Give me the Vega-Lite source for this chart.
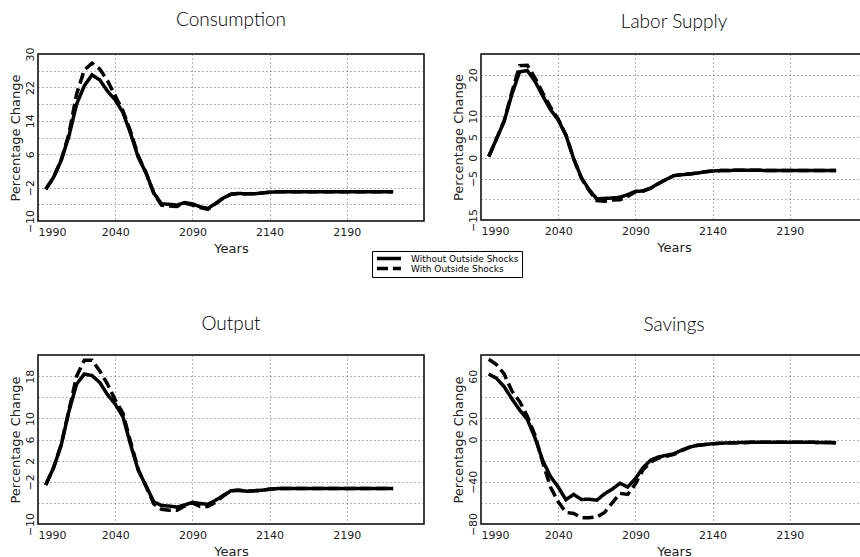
{
  "$schema": "https://vega.github.io/schema/vega-lite/v6.json",
  "padding": {"left": 8, "top": 10, "right": 0, "bottom": 0},
  "background": "white",
  "columns": 2,
  "bounds": "flush",
  "spacing": {"row": 134, "column": 57},
  "datasets": {
    "consumption": [
      {"year":1995,"series":"Without Outside Shocks","value":-2.4},{"year":2000,"series":"Without Outside Shocks","value":0.4},{"year":2005,"series":"Without Outside Shocks","value":4.5},{"year":2010,"series":"Without Outside Shocks","value":10.3},{"year":2015,"series":"Without Outside Shocks","value":18.0},{"year":2020,"series":"Without Outside Shocks","value":22.4},{"year":2025,"series":"Without Outside Shocks","value":25.0},{"year":2030,"series":"Without Outside Shocks","value":23.8},{"year":2035,"series":"Without Outside Shocks","value":21.1},{"year":2040,"series":"Without Outside Shocks","value":19.0},{"year":2045,"series":"Without Outside Shocks","value":16.0},{"year":2050,"series":"Without Outside Shocks","value":10.9},{"year":2055,"series":"Without Outside Shocks","value":5.2},{"year":2060,"series":"Without Outside Shocks","value":1.5},{"year":2065,"series":"Without Outside Shocks","value":-3.3},{"year":2070,"series":"Without Outside Shocks","value":-5.9},{"year":2075,"series":"Without Outside Shocks","value":-6.0},{"year":2080,"series":"Without Outside Shocks","value":-6.2},{"year":2085,"series":"Without Outside Shocks","value":-5.6},{"year":2090,"series":"Without Outside Shocks","value":-5.9},{"year":2095,"series":"Without Outside Shocks","value":-6.6},{"year":2100,"series":"Without Outside Shocks","value":-7.0},{"year":2105,"series":"Without Outside Shocks","value":-5.8},{"year":2110,"series":"Without Outside Shocks","value":-4.5},{"year":2115,"series":"Without Outside Shocks","value":-3.6},{"year":2120,"series":"Without Outside Shocks","value":-3.4},{"year":2125,"series":"Without Outside Shocks","value":-3.5},{"year":2130,"series":"Without Outside Shocks","value":-3.5},{"year":2135,"series":"Without Outside Shocks","value":-3.3},{"year":2140,"series":"Without Outside Shocks","value":-3.1},{"year":2145,"series":"Without Outside Shocks","value":-3.0},{"year":2150,"series":"Without Outside Shocks","value":-3.0},{"year":2155,"series":"Without Outside Shocks","value":-3.0},{"year":2160,"series":"Without Outside Shocks","value":-3.0},{"year":2165,"series":"Without Outside Shocks","value":-3.0},{"year":2170,"series":"Without Outside Shocks","value":-3.0},{"year":2175,"series":"Without Outside Shocks","value":-3.0},{"year":2180,"series":"Without Outside Shocks","value":-3.0},{"year":2185,"series":"Without Outside Shocks","value":-3.0},{"year":2190,"series":"Without Outside Shocks","value":-3.0},{"year":2195,"series":"Without Outside Shocks","value":-3.0},{"year":2200,"series":"Without Outside Shocks","value":-3.0},{"year":2205,"series":"Without Outside Shocks","value":-3.0},{"year":2210,"series":"Without Outside Shocks","value":-3.0},{"year":2215,"series":"Without Outside Shocks","value":-3.0},{"year":2220,"series":"Without Outside Shocks","value":-3.0},
      {"year":1995,"series":"With Outside Shocks","value":-2.4},{"year":2000,"series":"With Outside Shocks","value":0.4},{"year":2005,"series":"With Outside Shocks","value":4.6},{"year":2010,"series":"With Outside Shocks","value":10.8},{"year":2015,"series":"With Outside Shocks","value":20.4},{"year":2020,"series":"With Outside Shocks","value":26.2},{"year":2025,"series":"With Outside Shocks","value":27.8},{"year":2030,"series":"With Outside Shocks","value":26.4},{"year":2035,"series":"With Outside Shocks","value":23.6},{"year":2040,"series":"With Outside Shocks","value":20.0},{"year":2045,"series":"With Outside Shocks","value":16.4},{"year":2050,"series":"With Outside Shocks","value":11.4},{"year":2055,"series":"With Outside Shocks","value":5.6},{"year":2060,"series":"With Outside Shocks","value":1.5},{"year":2065,"series":"With Outside Shocks","value":-3.4},{"year":2070,"series":"With Outside Shocks","value":-6.2},{"year":2075,"series":"With Outside Shocks","value":-6.4},{"year":2080,"series":"With Outside Shocks","value":-6.5},{"year":2085,"series":"With Outside Shocks","value":-5.7},{"year":2090,"series":"With Outside Shocks","value":-6.2},{"year":2095,"series":"With Outside Shocks","value":-6.8},{"year":2100,"series":"With Outside Shocks","value":-7.2},{"year":2105,"series":"With Outside Shocks","value":-5.9},{"year":2110,"series":"With Outside Shocks","value":-4.5},{"year":2115,"series":"With Outside Shocks","value":-3.6},{"year":2120,"series":"With Outside Shocks","value":-3.4},{"year":2125,"series":"With Outside Shocks","value":-3.5},{"year":2130,"series":"With Outside Shocks","value":-3.5},{"year":2135,"series":"With Outside Shocks","value":-3.3},{"year":2140,"series":"With Outside Shocks","value":-3.1},{"year":2145,"series":"With Outside Shocks","value":-3.0},{"year":2150,"series":"With Outside Shocks","value":-3.0},{"year":2155,"series":"With Outside Shocks","value":-3.0},{"year":2160,"series":"With Outside Shocks","value":-3.0},{"year":2165,"series":"With Outside Shocks","value":-3.0},{"year":2170,"series":"With Outside Shocks","value":-3.0},{"year":2175,"series":"With Outside Shocks","value":-3.0},{"year":2180,"series":"With Outside Shocks","value":-3.0},{"year":2185,"series":"With Outside Shocks","value":-3.0},{"year":2190,"series":"With Outside Shocks","value":-3.0},{"year":2195,"series":"With Outside Shocks","value":-3.0},{"year":2200,"series":"With Outside Shocks","value":-3.0},{"year":2205,"series":"With Outside Shocks","value":-3.0},{"year":2210,"series":"With Outside Shocks","value":-3.0},{"year":2215,"series":"With Outside Shocks","value":-3.0},{"year":2220,"series":"With Outside Shocks","value":-3.0}
    ],
    "labor": [
      {"year":1995,"series":"Without Outside Shocks","value":0.3},{"year":2000,"series":"Without Outside Shocks","value":4.5},{"year":2005,"series":"Without Outside Shocks","value":8.8},{"year":2010,"series":"Without Outside Shocks","value":15.3},{"year":2015,"series":"Without Outside Shocks","value":20.7},{"year":2020,"series":"Without Outside Shocks","value":21.0},{"year":2025,"series":"Without Outside Shocks","value":18.4},{"year":2030,"series":"Without Outside Shocks","value":14.9},{"year":2035,"series":"Without Outside Shocks","value":11.6},{"year":2040,"series":"Without Outside Shocks","value":9.1},{"year":2045,"series":"Without Outside Shocks","value":5.4},{"year":2050,"series":"Without Outside Shocks","value":-0.2},{"year":2055,"series":"Without Outside Shocks","value":-4.8},{"year":2060,"series":"Without Outside Shocks","value":-7.7},{"year":2065,"series":"Without Outside Shocks","value":-9.9},{"year":2070,"series":"Without Outside Shocks","value":-9.8},{"year":2075,"series":"Without Outside Shocks","value":-9.7},{"year":2080,"series":"Without Outside Shocks","value":-9.5},{"year":2085,"series":"Without Outside Shocks","value":-8.9},{"year":2090,"series":"Without Outside Shocks","value":-8.1},{"year":2095,"series":"Without Outside Shocks","value":-8.0},{"year":2100,"series":"Without Outside Shocks","value":-7.3},{"year":2105,"series":"Without Outside Shocks","value":-6.2},{"year":2110,"series":"Without Outside Shocks","value":-5.2},{"year":2115,"series":"Without Outside Shocks","value":-4.3},{"year":2120,"series":"Without Outside Shocks","value":-4.1},{"year":2125,"series":"Without Outside Shocks","value":-3.9},{"year":2130,"series":"Without Outside Shocks","value":-3.7},{"year":2135,"series":"Without Outside Shocks","value":-3.4},{"year":2140,"series":"Without Outside Shocks","value":-3.2},{"year":2145,"series":"Without Outside Shocks","value":-3.1},{"year":2150,"series":"Without Outside Shocks","value":-3.1},{"year":2155,"series":"Without Outside Shocks","value":-3.0},{"year":2160,"series":"Without Outside Shocks","value":-3.0},{"year":2165,"series":"Without Outside Shocks","value":-3.0},{"year":2170,"series":"Without Outside Shocks","value":-3.0},{"year":2175,"series":"Without Outside Shocks","value":-3.1},{"year":2180,"series":"Without Outside Shocks","value":-3.1},{"year":2185,"series":"Without Outside Shocks","value":-3.1},{"year":2190,"series":"Without Outside Shocks","value":-3.1},{"year":2195,"series":"Without Outside Shocks","value":-3.1},{"year":2200,"series":"Without Outside Shocks","value":-3.1},{"year":2205,"series":"Without Outside Shocks","value":-3.1},{"year":2210,"series":"Without Outside Shocks","value":-3.1},{"year":2215,"series":"Without Outside Shocks","value":-3.1},{"year":2220,"series":"Without Outside Shocks","value":-3.1},
      {"year":1995,"series":"With Outside Shocks","value":0.3},{"year":2000,"series":"With Outside Shocks","value":4.5},{"year":2005,"series":"With Outside Shocks","value":8.9},{"year":2010,"series":"With Outside Shocks","value":15.8},{"year":2015,"series":"With Outside Shocks","value":22.2},{"year":2020,"series":"With Outside Shocks","value":22.3},{"year":2025,"series":"With Outside Shocks","value":19.2},{"year":2030,"series":"With Outside Shocks","value":15.6},{"year":2035,"series":"With Outside Shocks","value":12.2},{"year":2040,"series":"With Outside Shocks","value":9.3},{"year":2045,"series":"With Outside Shocks","value":5.5},{"year":2050,"series":"With Outside Shocks","value":-0.2},{"year":2055,"series":"With Outside Shocks","value":-4.9},{"year":2060,"series":"With Outside Shocks","value":-7.9},{"year":2065,"series":"With Outside Shocks","value":-10.3},{"year":2070,"series":"With Outside Shocks","value":-10.5},{"year":2075,"series":"With Outside Shocks","value":-10.2},{"year":2080,"series":"With Outside Shocks","value":-10.1},{"year":2085,"series":"With Outside Shocks","value":-9.3},{"year":2090,"series":"With Outside Shocks","value":-8.2},{"year":2095,"series":"With Outside Shocks","value":-8.0},{"year":2100,"series":"With Outside Shocks","value":-7.3},{"year":2105,"series":"With Outside Shocks","value":-6.2},{"year":2110,"series":"With Outside Shocks","value":-5.2},{"year":2115,"series":"With Outside Shocks","value":-4.3},{"year":2120,"series":"With Outside Shocks","value":-4.1},{"year":2125,"series":"With Outside Shocks","value":-3.9},{"year":2130,"series":"With Outside Shocks","value":-3.7},{"year":2135,"series":"With Outside Shocks","value":-3.4},{"year":2140,"series":"With Outside Shocks","value":-3.2},{"year":2145,"series":"With Outside Shocks","value":-3.1},{"year":2150,"series":"With Outside Shocks","value":-3.1},{"year":2155,"series":"With Outside Shocks","value":-3.0},{"year":2160,"series":"With Outside Shocks","value":-3.0},{"year":2165,"series":"With Outside Shocks","value":-3.0},{"year":2170,"series":"With Outside Shocks","value":-3.0},{"year":2175,"series":"With Outside Shocks","value":-3.1},{"year":2180,"series":"With Outside Shocks","value":-3.1},{"year":2185,"series":"With Outside Shocks","value":-3.1},{"year":2190,"series":"With Outside Shocks","value":-3.1},{"year":2195,"series":"With Outside Shocks","value":-3.1},{"year":2200,"series":"With Outside Shocks","value":-3.1},{"year":2205,"series":"With Outside Shocks","value":-3.1},{"year":2210,"series":"With Outside Shocks","value":-3.1},{"year":2215,"series":"With Outside Shocks","value":-3.1},{"year":2220,"series":"With Outside Shocks","value":-3.1}
    ],
    "output": [
      {"year":1995,"series":"Without Outside Shocks","value":-2.6},{"year":2000,"series":"Without Outside Shocks","value":0.6},{"year":2005,"series":"Without Outside Shocks","value":4.9},{"year":2010,"series":"Without Outside Shocks","value":11.3},{"year":2015,"series":"Without Outside Shocks","value":16.5},{"year":2020,"series":"Without Outside Shocks","value":18.4},{"year":2025,"series":"Without Outside Shocks","value":18.1},{"year":2030,"series":"Without Outside Shocks","value":16.8},{"year":2035,"series":"Without Outside Shocks","value":14.5},{"year":2040,"series":"Without Outside Shocks","value":12.7},{"year":2045,"series":"Without Outside Shocks","value":10.3},{"year":2050,"series":"Without Outside Shocks","value":5.0},{"year":2055,"series":"Without Outside Shocks","value":0.1},{"year":2060,"series":"Without Outside Shocks","value":-2.8},{"year":2065,"series":"Without Outside Shocks","value":-5.8},{"year":2070,"series":"Without Outside Shocks","value":-6.5},{"year":2075,"series":"Without Outside Shocks","value":-6.6},{"year":2080,"series":"Without Outside Shocks","value":-6.8},{"year":2085,"series":"Without Outside Shocks","value":-6.4},{"year":2090,"series":"Without Outside Shocks","value":-5.9},{"year":2095,"series":"Without Outside Shocks","value":-6.1},{"year":2100,"series":"Without Outside Shocks","value":-6.3},{"year":2105,"series":"Without Outside Shocks","value":-5.5},{"year":2110,"series":"Without Outside Shocks","value":-4.6},{"year":2115,"series":"Without Outside Shocks","value":-3.7},{"year":2120,"series":"Without Outside Shocks","value":-3.6},{"year":2125,"series":"Without Outside Shocks","value":-3.8},{"year":2130,"series":"Without Outside Shocks","value":-3.7},{"year":2135,"series":"Without Outside Shocks","value":-3.6},{"year":2140,"series":"Without Outside Shocks","value":-3.4},{"year":2145,"series":"Without Outside Shocks","value":-3.3},{"year":2150,"series":"Without Outside Shocks","value":-3.3},{"year":2155,"series":"Without Outside Shocks","value":-3.3},{"year":2160,"series":"Without Outside Shocks","value":-3.3},{"year":2165,"series":"Without Outside Shocks","value":-3.3},{"year":2170,"series":"Without Outside Shocks","value":-3.3},{"year":2175,"series":"Without Outside Shocks","value":-3.3},{"year":2180,"series":"Without Outside Shocks","value":-3.3},{"year":2185,"series":"Without Outside Shocks","value":-3.3},{"year":2190,"series":"Without Outside Shocks","value":-3.3},{"year":2195,"series":"Without Outside Shocks","value":-3.3},{"year":2200,"series":"Without Outside Shocks","value":-3.3},{"year":2205,"series":"Without Outside Shocks","value":-3.3},{"year":2210,"series":"Without Outside Shocks","value":-3.3},{"year":2215,"series":"Without Outside Shocks","value":-3.3},{"year":2220,"series":"Without Outside Shocks","value":-3.3},
      {"year":1995,"series":"With Outside Shocks","value":-2.6},{"year":2000,"series":"With Outside Shocks","value":0.6},{"year":2005,"series":"With Outside Shocks","value":5.0},{"year":2010,"series":"With Outside Shocks","value":11.5},{"year":2015,"series":"With Outside Shocks","value":18.0},{"year":2020,"series":"With Outside Shocks","value":21.0},{"year":2025,"series":"With Outside Shocks","value":21.0},{"year":2030,"series":"With Outside Shocks","value":19.0},{"year":2035,"series":"With Outside Shocks","value":16.5},{"year":2040,"series":"With Outside Shocks","value":13.5},{"year":2045,"series":"With Outside Shocks","value":11.0},{"year":2050,"series":"With Outside Shocks","value":5.5},{"year":2055,"series":"With Outside Shocks","value":0.3},{"year":2060,"series":"With Outside Shocks","value":-2.9},{"year":2065,"series":"With Outside Shocks","value":-6.2},{"year":2070,"series":"With Outside Shocks","value":-7.2},{"year":2075,"series":"With Outside Shocks","value":-7.4},{"year":2080,"series":"With Outside Shocks","value":-7.4},{"year":2085,"series":"With Outside Shocks","value":-6.6},{"year":2090,"series":"With Outside Shocks","value":-6.0},{"year":2095,"series":"With Outside Shocks","value":-6.7},{"year":2100,"series":"With Outside Shocks","value":-6.7},{"year":2105,"series":"With Outside Shocks","value":-5.9},{"year":2110,"series":"With Outside Shocks","value":-4.7},{"year":2115,"series":"With Outside Shocks","value":-3.7},{"year":2120,"series":"With Outside Shocks","value":-3.6},{"year":2125,"series":"With Outside Shocks","value":-3.8},{"year":2130,"series":"With Outside Shocks","value":-3.7},{"year":2135,"series":"With Outside Shocks","value":-3.6},{"year":2140,"series":"With Outside Shocks","value":-3.4},{"year":2145,"series":"With Outside Shocks","value":-3.3},{"year":2150,"series":"With Outside Shocks","value":-3.3},{"year":2155,"series":"With Outside Shocks","value":-3.3},{"year":2160,"series":"With Outside Shocks","value":-3.3},{"year":2165,"series":"With Outside Shocks","value":-3.3},{"year":2170,"series":"With Outside Shocks","value":-3.3},{"year":2175,"series":"With Outside Shocks","value":-3.3},{"year":2180,"series":"With Outside Shocks","value":-3.3},{"year":2185,"series":"With Outside Shocks","value":-3.3},{"year":2190,"series":"With Outside Shocks","value":-3.3},{"year":2195,"series":"With Outside Shocks","value":-3.3},{"year":2200,"series":"With Outside Shocks","value":-3.3},{"year":2205,"series":"With Outside Shocks","value":-3.3},{"year":2210,"series":"With Outside Shocks","value":-3.3},{"year":2215,"series":"With Outside Shocks","value":-3.3},{"year":2220,"series":"With Outside Shocks","value":-3.3}
    ],
    "savings": [
      {"year":1995,"series":"Without Outside Shocks","value":62.0},{"year":2000,"series":"Without Outside Shocks","value":58.0},{"year":2005,"series":"Without Outside Shocks","value":50.0},{"year":2010,"series":"Without Outside Shocks","value":38.5},{"year":2015,"series":"Without Outside Shocks","value":28.0},{"year":2020,"series":"Without Outside Shocks","value":19.0},{"year":2025,"series":"Without Outside Shocks","value":1.5},{"year":2030,"series":"Without Outside Shocks","value":-20.0},{"year":2035,"series":"Without Outside Shocks","value":-35.0},{"year":2040,"series":"Without Outside Shocks","value":-45.0},{"year":2045,"series":"Without Outside Shocks","value":-57.0},{"year":2050,"series":"Without Outside Shocks","value":-52.0},{"year":2055,"series":"Without Outside Shocks","value":-56.8},{"year":2060,"series":"Without Outside Shocks","value":-56.5},{"year":2065,"series":"Without Outside Shocks","value":-57.5},{"year":2070,"series":"Without Outside Shocks","value":-51.5},{"year":2075,"series":"Without Outside Shocks","value":-47.0},{"year":2080,"series":"Without Outside Shocks","value":-41.5},{"year":2085,"series":"Without Outside Shocks","value":-45.0},{"year":2090,"series":"Without Outside Shocks","value":-37.0},{"year":2095,"series":"Without Outside Shocks","value":-26.5},{"year":2100,"series":"Without Outside Shocks","value":-19.5},{"year":2105,"series":"Without Outside Shocks","value":-16.5},{"year":2110,"series":"Without Outside Shocks","value":-15.0},{"year":2115,"series":"Without Outside Shocks","value":-13.5},{"year":2120,"series":"Without Outside Shocks","value":-10.0},{"year":2125,"series":"Without Outside Shocks","value":-7.2},{"year":2130,"series":"Without Outside Shocks","value":-5.5},{"year":2135,"series":"Without Outside Shocks","value":-4.8},{"year":2140,"series":"Without Outside Shocks","value":-4.0},{"year":2145,"series":"Without Outside Shocks","value":-3.6},{"year":2150,"series":"Without Outside Shocks","value":-3.2},{"year":2155,"series":"Without Outside Shocks","value":-3.0},{"year":2160,"series":"Without Outside Shocks","value":-2.8},{"year":2165,"series":"Without Outside Shocks","value":-2.7},{"year":2170,"series":"Without Outside Shocks","value":-2.6},{"year":2175,"series":"Without Outside Shocks","value":-2.5},{"year":2180,"series":"Without Outside Shocks","value":-2.5},{"year":2185,"series":"Without Outside Shocks","value":-2.5},{"year":2190,"series":"Without Outside Shocks","value":-2.5},{"year":2195,"series":"Without Outside Shocks","value":-2.5},{"year":2200,"series":"Without Outside Shocks","value":-2.6},{"year":2205,"series":"Without Outside Shocks","value":-2.7},{"year":2210,"series":"Without Outside Shocks","value":-2.8},{"year":2215,"series":"Without Outside Shocks","value":-2.9},{"year":2220,"series":"Without Outside Shocks","value":-3.0},
      {"year":1995,"series":"With Outside Shocks","value":76.0},{"year":2000,"series":"With Outside Shocks","value":71.0},{"year":2005,"series":"With Outside Shocks","value":62.0},{"year":2010,"series":"With Outside Shocks","value":46.0},{"year":2015,"series":"With Outside Shocks","value":36.0},{"year":2020,"series":"With Outside Shocks","value":22.0},{"year":2025,"series":"With Outside Shocks","value":4.0},{"year":2030,"series":"With Outside Shocks","value":-22.0},{"year":2035,"series":"With Outside Shocks","value":-45.0},{"year":2040,"series":"With Outside Shocks","value":-59.0},{"year":2045,"series":"With Outside Shocks","value":-69.0},{"year":2050,"series":"With Outside Shocks","value":-70.0},{"year":2055,"series":"With Outside Shocks","value":-74.0},{"year":2060,"series":"With Outside Shocks","value":-74.0},{"year":2065,"series":"With Outside Shocks","value":-73.5},{"year":2070,"series":"With Outside Shocks","value":-69.0},{"year":2075,"series":"With Outside Shocks","value":-60.0},{"year":2080,"series":"With Outside Shocks","value":-51.0},{"year":2085,"series":"With Outside Shocks","value":-52.0},{"year":2090,"series":"With Outside Shocks","value":-42.0},{"year":2095,"series":"With Outside Shocks","value":-28.5},{"year":2100,"series":"With Outside Shocks","value":-21.5},{"year":2105,"series":"With Outside Shocks","value":-17.5},{"year":2110,"series":"With Outside Shocks","value":-16.0},{"year":2115,"series":"With Outside Shocks","value":-14.0},{"year":2120,"series":"With Outside Shocks","value":-10.5},{"year":2125,"series":"With Outside Shocks","value":-7.4},{"year":2130,"series":"With Outside Shocks","value":-5.6},{"year":2135,"series":"With Outside Shocks","value":-4.8},{"year":2140,"series":"With Outside Shocks","value":-4.0},{"year":2145,"series":"With Outside Shocks","value":-3.6},{"year":2150,"series":"With Outside Shocks","value":-3.2},{"year":2155,"series":"With Outside Shocks","value":-3.0},{"year":2160,"series":"With Outside Shocks","value":-2.8},{"year":2165,"series":"With Outside Shocks","value":-2.7},{"year":2170,"series":"With Outside Shocks","value":-2.6},{"year":2175,"series":"With Outside Shocks","value":-2.5},{"year":2180,"series":"With Outside Shocks","value":-2.5},{"year":2185,"series":"With Outside Shocks","value":-2.5},{"year":2190,"series":"With Outside Shocks","value":-2.5},{"year":2195,"series":"With Outside Shocks","value":-2.5},{"year":2200,"series":"With Outside Shocks","value":-2.6},{"year":2205,"series":"With Outside Shocks","value":-2.7},{"year":2210,"series":"With Outside Shocks","value":-2.8},{"year":2215,"series":"With Outside Shocks","value":-2.9},{"year":2220,"series":"With Outside Shocks","value":-3.0}
    ]
  },
  "concat": [
    {
      "title": {"text": "Consumption", "offset": 17},
      "width": 386, "height": 167,
      "data": {"name": "consumption"},
      "mark": {"type": "line", "strokeWidth": 3.5, "color": "black", "strokeCap": "butt"},
      "encoding": {
        "x": {"field": "year", "type": "quantitative", "scale": {"domain": [1990, 2240], "nice": false, "zero": false}, "axis": {"values": [1990, 2040, 2090, 2140, 2190], "format": "d", "title": "Years", "labelFlush": true}},
        "y": {"field": "value", "type": "quantitative", "scale": {"domain": [-10, 30], "nice": false, "zero": false}, "axis": {"values": [-10, -6, -2, 2, 6, 10, 14, 18, 22, 26, 30], "labelExpr": "(datum.value + 10) % 8 == 0 ? datum.label : ''", "title": "Percentage Change"}},
        "strokeDash": {"field": "series", "type": "nominal", "scale": {"domain": ["Without Outside Shocks", "With Outside Shocks"], "range": [[1, 0], [11, 5]]},
          "legend": {"orient": "none", "legendX": 334, "legendY": 197, "title": null, "symbolType": "stroke", "symbolStrokeWidth": 3.5, "symbolStrokeColor": "black", "symbolSize": 576, "clipHeight": 9, "labelFont": "DejaVu Sans", "labelFontSize": 9, "labelColor": "black", "rowPadding": 0, "padding": 3, "strokeColor": "black", "fillColor": "white", "labelOffset": 8}}
      }
    },
    {
      "title": {"text": "Labor Supply", "offset": 22},
      "width": 386, "height": 166,
      "data": {"name": "labor"},
      "mark": {"type": "line", "strokeWidth": 3.5, "color": "black", "strokeCap": "butt"},
      "encoding": {
        "x": {"field": "year", "type": "quantitative", "scale": {"domain": [1990, 2240], "nice": false, "zero": false}, "axis": {"values": [1990, 2040, 2090, 2140, 2190], "format": "d", "title": "Years", "labelFlush": true}},
        "y": {"field": "value", "type": "quantitative", "scale": {"domain": [-15, 25], "nice": false, "zero": false}, "axis": {"values": [-15, -10, -5, 0, 5, 10, 15, 20, 25], "labelExpr": "indexof([-15, -5, 0, 5, 10, 20], datum.value) >= 0 ? datum.label : ''", "title": "Percentage Change"}},
        "strokeDash": {"field": "series", "type": "nominal", "scale": {"domain": ["Without Outside Shocks", "With Outside Shocks"], "range": [[1, 0], [11, 5]]}}
      }
    },
    {
      "title": {"text": "Output", "offset": 19},
      "width": 386, "height": 169,
      "data": {"name": "output"},
      "mark": {"type": "line", "strokeWidth": 3.5, "color": "black", "strokeCap": "butt"},
      "encoding": {
        "x": {"field": "year", "type": "quantitative", "scale": {"domain": [1990, 2240], "nice": false, "zero": false}, "axis": {"values": [1990, 2040, 2090, 2140, 2190], "format": "d", "title": "Years", "labelFlush": true}},
        "y": {"field": "value", "type": "quantitative", "scale": {"domain": [-10, 22], "nice": false, "zero": false}, "axis": {"values": [-10, -6, -2, 2, 6, 10, 14, 18, 22], "labelExpr": "indexof([-10, -2, 2, 6, 10, 18], datum.value) >= 0 ? datum.label : ''", "title": "Percentage Change"}},
        "strokeDash": {"field": "series", "type": "nominal", "scale": {"domain": ["Without Outside Shocks", "With Outside Shocks"], "range": [[1, 0], [11, 5]]}}
      }
    },
    {
      "title": {"text": "Savings", "offset": 17},
      "width": 386, "height": 169,
      "data": {"name": "savings"},
      "mark": {"type": "line", "strokeWidth": 3.5, "color": "black", "strokeCap": "butt"},
      "encoding": {
        "x": {"field": "year", "type": "quantitative", "scale": {"domain": [1990, 2240], "nice": false, "zero": false}, "axis": {"values": [1990, 2040, 2090, 2140, 2190], "format": "d", "title": "Years", "labelFlush": true}},
        "y": {"field": "value", "type": "quantitative", "scale": {"domain": [-80, 80], "nice": false, "zero": false}, "axis": {"values": [-80, -60, -40, -20, 0, 20, 40, 60, 80], "labelExpr": "indexof([-80, -40, 0, 20, 60], datum.value) >= 0 ? datum.label : ''", "title": "Percentage Change"}},
        "strokeDash": {"field": "series", "type": "nominal", "scale": {"domain": ["Without Outside Shocks", "With Outside Shocks"], "range": [[1, 0], [11, 5]]}}
      }
    }
  ],
  "config": {
    "view": {"stroke": "black", "strokeWidth": 1.5},
    "axis": {"grid": true, "gridColor": "#444", "gridDash": [1, 3], "gridWidth": 0.8, "domain": false, "ticks": false, "labelFont": "DejaVu Sans", "labelFontSize": 11, "labelColor": "#222", "titleFont": "DejaVu Sans", "titleFontWeight": "normal", "titleFontSize": 13, "titleColor": "#222"},
    "axisY": {"labelAngle": -90, "labelAlign": "center", "labelBaseline": "bottom", "labelPadding": 3, "titlePadding": 2},
    "axisX": {"labelPadding": 5, "titlePadding": 5},
    "title": {"font": "Lato", "fontSize": 19, "fontWeight": 300, "color": "black"}
  }
}
